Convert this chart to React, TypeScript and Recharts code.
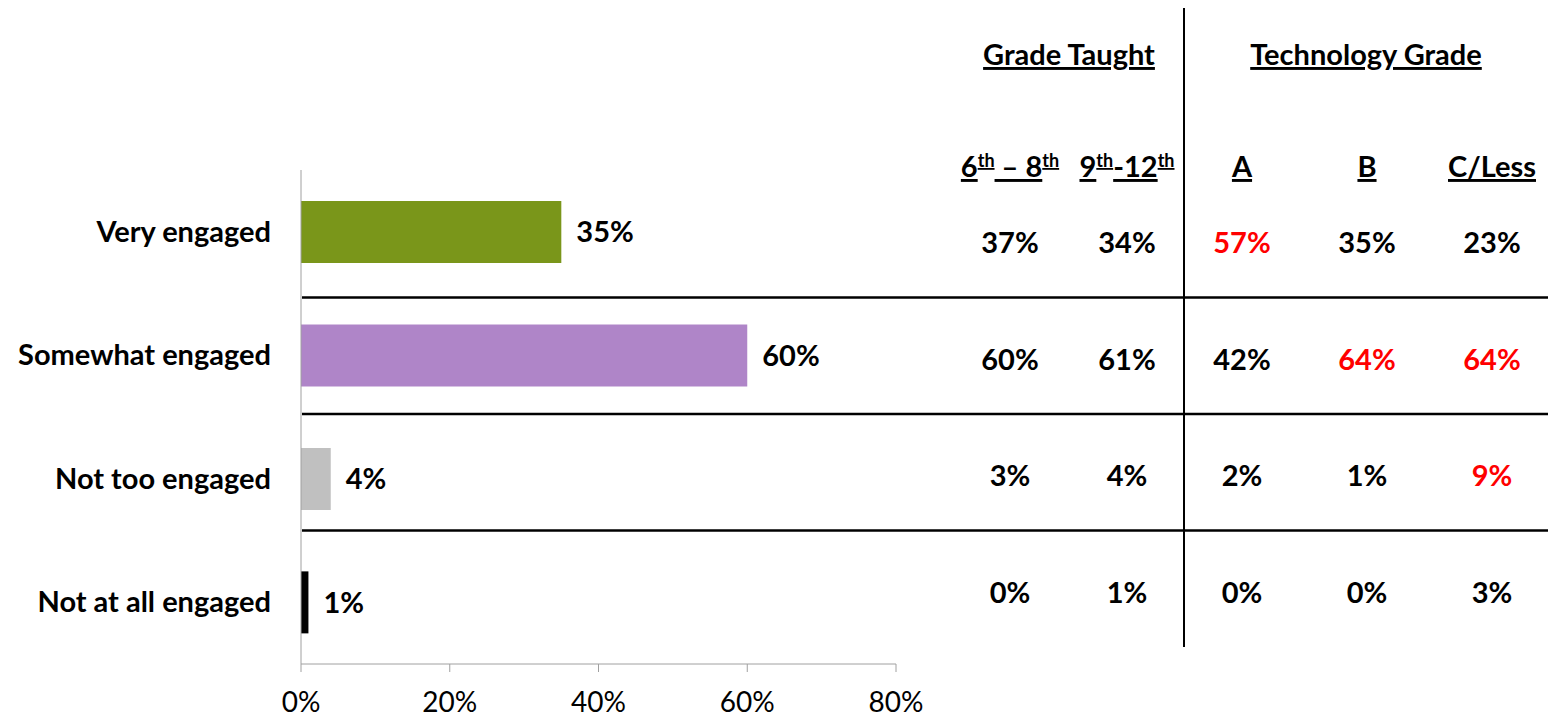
import React from "react";
import { BarChart, Bar, XAxis, YAxis, Cell, LabelList } from "recharts";

// levels of engagement, overall results
const categories = ["Very engaged", "Somewhat engaged", "Not too engaged", "Not at all engaged"];
const overall = [35, 60, 4, 1];
const barColors = ["#7A961A", "#AF85C8", "#C0C0C0", "#000000"];
const xTicks = [0, 20, 40, 60, 80];

// breakdown table on the right
const grade6to8 = [37, 60, 3, 0];
const grade9to12 = [34, 61, 4, 1];
const techA = [57, 42, 2, 0];
const techB = [35, 64, 1, 0];
const techC = [23, 64, 9, 3];
// cells shown in red (significant differences)
const redA = [true, false, false, false];
const redB = [false, true, false, false];
const redC = [false, true, true, false];

const FONT = "Lato, 'Open Sans', sans-serif";
const RED = "#FF0000";
const FS = 29;

const data = categories.map((name, i) => ({ name, value: overall[i] }));

const columns = [
  { x: 1010, values: grade6to8, red: [false, false, false, false] },
  { x: 1127, values: grade9to12, red: [false, false, false, false] },
  { x: 1242, values: techA, red: redA },
  { x: 1367, values: techB, red: redB },
  { x: 1492, values: techC, red: redC },
];

const rowTop = 181;
const rowH = 116.5;

const CategoryTick = (props: any) => {
  const { x, y, payload } = props;
  return (
    <text x={x} y={y} dy={10} textAnchor="end" fontFamily={FONT} fontWeight={700} fontSize={FS} fill="#000">
      {payload.value}
    </text>
  );
};

const Sup = ({ children }: { children: string }) => (
  <tspan dy={-10} fontSize={18}>{children}</tspan>
);

const Table = () => (
  <g fontFamily={FONT} fontWeight={700} fontSize={FS}>
    <line x1={1184} y1={8} x2={1184} y2={647} stroke="#000" strokeWidth={2} />
    {[1, 2, 3].map((r) => (
      <line key={r} x1={302} x2={1548} y1={rowTop + rowH * r} y2={rowTop + rowH * r} stroke="#000" strokeWidth={2.5} />
    ))}
    <text x={1069} y={65} textAnchor="middle" textDecoration="underline">Grade Taught</text>
    <text x={1366} y={65} textAnchor="middle" textDecoration="underline">Technology Grade</text>
    <text x={1010} y={177} textAnchor="middle" textDecoration="underline">
      6<Sup>th</Sup><tspan dy={10}> – 8</tspan><Sup>th</Sup>
    </text>
    <text x={1127} y={177} textAnchor="middle" textDecoration="underline">
      9<Sup>th</Sup><tspan dy={10}>-12</tspan><Sup>th</Sup>
    </text>
    <text x={1242} y={177} textAnchor="middle" textDecoration="underline">A</text>
    <text x={1367} y={177} textAnchor="middle" textDecoration="underline">B</text>
    <text x={1492} y={177} textAnchor="middle" textDecoration="underline">C/Less</text>
    {columns.map((c, ci) =>
      c.values.map((v, ri) => (
        <text key={`${ci}-${ri}`} x={c.x} y={rowTop + rowH * ri + rowH / 2 + 14} textAnchor="middle" fill={c.red[ri] ? RED : "#000"}>
          {v}%
        </text>
      ))
    )}
  </g>
);

export default function App() {
  return (
    <div style={{ position: "absolute", left: 0, top: 0, background: "#fff" }}>
      <BarChart
        width={1548}
        height={717}
        data={data}
        layout="vertical"
        margin={{ top: 170, right: 652, bottom: 0, left: 0 }}
        barCategoryGap="25%"
      >
        <XAxis
          type="number"
          domain={[0, 80]}
          ticks={xTicks}
          tickFormatter={(v: number) => `${v}%`}
          height={53}
          stroke="#A0A0A0"
          tickSize={8}
          tickMargin={20}
          tick={{ fill: "#000", fontSize: 28, fontFamily: FONT }}
          interval={0}
        />
        <YAxis
          type="category"
          dataKey="name"
          width={301}
          stroke="#A0A0A0"
          tickLine={false}
          tickSize={0}
          tickMargin={30}
          tick={<CategoryTick />}
        />
        <Bar dataKey="value" isAnimationActive={false}>
          {data.map((d, i) => (
            <Cell key={d.name} fill={barColors[i]} />
          ))}
          <LabelList
            dataKey="value"
            position="right"
            offset={15}
            formatter={(v: any) => `${v}%`}
            fill="#000"
            fontFamily={FONT}
            fontWeight={700}
            fontSize={FS}
          />
        </Bar>
        <Table />
      </BarChart>
    </div>
  );
}
